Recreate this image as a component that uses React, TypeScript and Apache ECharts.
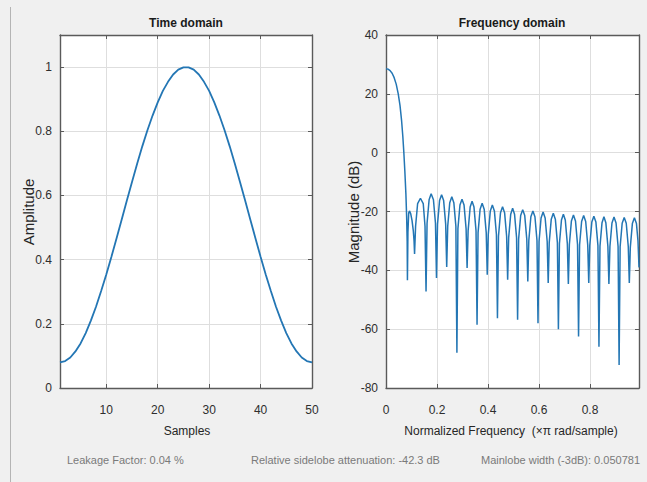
import React, { useEffect, useRef } from "react";
import * as echarts from "echarts";

// Time domain: window amplitude per sample (samples 1..50)
const timeAmp = [
  0.080, 0.084, 0.095, 0.114, 0.139, 0.171, 0.210, 0.253, 0.302, 0.354,
  0.409, 0.467, 0.525, 0.584, 0.642, 0.699, 0.753, 0.803, 0.849, 0.890,
  0.926, 0.954, 0.977, 0.992, 0.999, 0.999, 0.992, 0.977, 0.954, 0.926,
  0.890, 0.849, 0.803, 0.753, 0.699, 0.642, 0.584, 0.525, 0.467, 0.409,
  0.354, 0.302, 0.253, 0.210, 0.171, 0.139, 0.114, 0.095, 0.084, 0.080,
];

// Frequency domain: normalized frequency (x pi rad/sample) and magnitude (dB)
const freqX = [
  0.000, 0.008, 0.016, 0.024, 0.032, 0.040, 0.048, 0.055, 0.061, 0.066, 0.070, 0.074, 0.078, 0.081, 0.083,
  0.084, 0.086, 0.089, 0.092, 0.097, 0.102, 0.107, 0.110,
  0.112, 0.116, 0.124, 0.135, 0.146, 0.153,
  0.157, 0.161, 0.169, 0.177, 0.186, 0.194,
  0.198, 0.202, 0.210, 0.218, 0.226, 0.234,
  0.238, 0.242, 0.250, 0.258, 0.266, 0.274,
  0.278, 0.282, 0.290, 0.298, 0.306, 0.314,
  0.318, 0.322, 0.330, 0.3375, 0.345, 0.353,
  0.357, 0.361, 0.369, 0.377, 0.385, 0.393,
  0.397, 0.401, 0.409, 0.417, 0.425, 0.433,
  0.437, 0.441, 0.449, 0.457, 0.465, 0.473,
  0.477, 0.481, 0.489, 0.4965, 0.504, 0.512,
  0.516, 0.520, 0.528, 0.536, 0.544, 0.552,
  0.556, 0.560, 0.568, 0.576, 0.584, 0.592,
  0.596, 0.600, 0.608, 0.616, 0.624, 0.632,
  0.636, 0.640, 0.648, 0.656, 0.664, 0.672,
  0.676, 0.680, 0.688, 0.6955, 0.703, 0.711,
  0.715, 0.719, 0.727, 0.735, 0.743, 0.751,
  0.755, 0.759, 0.767, 0.775, 0.783, 0.791,
  0.795, 0.799, 0.807, 0.815, 0.823, 0.831,
  0.835, 0.839, 0.847, 0.8545, 0.862, 0.870,
  0.874, 0.878, 0.886, 0.894, 0.902, 0.910,
  0.914, 0.918, 0.926, 0.934, 0.942, 0.950,
  0.954, 0.958, 0.966, 0.974, 0.982, 0.988, 0.992,
];
const magDb = [
  28.5, 28.4, 27.9, 27.0, 25.5, 23.3, 20.0, 16.0, 11.0, 5.5, 0.0, -6.5, -14.0, -22.0, -30.0,
  -43.4, -27.0, -20.5, -19.8, -20.8, -23.0, -26.5, -30.0,
  -34.4, -25.0, -17.3, -15.5, -17.3, -25.0,
  -47.2, -24.0, -16.0, -14.0, -16.0, -24.0,
  -42.6, -24.3, -16.3, -14.3, -16.3, -24.3,
  -38.9, -25.0, -17.0, -15.0, -17.0, -25.0,
  -68.0, -25.8, -17.8, -15.8, -17.8, -25.8,
  -39.2, -26.5, -18.5, -16.5, -18.5, -26.5,
  -58.5, -27.2, -19.2, -17.2, -19.2, -27.2,
  -41.5, -27.8, -19.8, -17.8, -19.8, -27.8,
  -56.3, -28.4, -20.4, -18.4, -20.4, -28.4,
  -43.2, -28.9, -20.9, -18.9, -20.9, -28.9,
  -56.8, -29.4, -21.4, -19.4, -21.4, -29.4,
  -43.8, -29.8, -21.8, -19.8, -21.8, -29.8,
  -58.0, -30.2, -22.2, -20.2, -22.2, -30.2,
  -44.3, -30.6, -22.6, -20.6, -22.6, -30.6,
  -60.0, -30.9, -22.9, -20.9, -22.9, -30.9,
  -44.6, -31.2, -23.2, -21.2, -23.2, -31.2,
  -62.5, -31.4, -23.4, -21.4, -23.4, -31.4,
  -44.3, -31.6, -23.6, -21.6, -23.6, -31.6,
  -66.0, -31.8, -23.8, -21.8, -23.8, -31.8,
  -44.6, -31.9, -23.9, -21.9, -23.9, -31.9,
  -72.2, -32.0, -24.0, -22.0, -24.0, -32.0,
  -44.3, -32.1, -24.1, -22.1, -24.1, -30.0, -39.0,
];

const timeXTicks = [10, 20, 30, 40, 50];
const timeYTicks = [0, 0.2, 0.4, 0.6, 0.8, 1];
const freqXTicks = [0, 0.2, 0.4, 0.6, 0.8];
const freqYTicks = [-80, -60, -40, -20, 0, 20, 40];

const FONT = "'Liberation Sans', Arial, Helvetica, sans-serif";
const LINE = "#2376b4";
const AXIS = "#5a5a5a";
const GRIDC = "#dedede";
const LABEL = "#2e2e2e";

function axisPair(grid: number, min: number, max: number, ticks: number[], dir: "x" | "y") {
  const main = {
    gridIndex: grid,
    type: "value",
    min,
    max,
    position: dir === "x" ? "bottom" : "left",
    axisLine: { show: true, onZero: false, lineStyle: { color: AXIS, width: 1.4 } },
    axisTick: { show: true, inside: true, length: 4, customValues: ticks, lineStyle: { color: AXIS, width: 1 } },
    axisLabel: {
      show: true,
      customValues: ticks,
      color: LABEL,
      fontFamily: FONT,
      fontSize: 12,
      margin: dir === "x" ? 16 : 8,
      formatter: (v: number) => String(Math.round(v * 1000) / 1000),
    },
    splitLine: { show: true, customValues: ticks, lineStyle: { color: GRIDC, width: 1 } },
  };
  const other = {
    gridIndex: grid,
    type: "value",
    min,
    max,
    position: dir === "x" ? "top" : "right",
    axisLine: { show: true, onZero: false, lineStyle: { color: AXIS, width: 1.4 } },
    axisTick: { show: true, inside: true, length: 4, customValues: ticks, lineStyle: { color: AXIS, width: 1 } },
    axisLabel: { show: false },
    splitLine: { show: false },
  };
  return [main, other];
}

export default function App() {
  const ref = useRef<HTMLDivElement>(null);
  useEffect(() => {
    if (!ref.current) return;
    const chart = echarts.init(ref.current, undefined, { renderer: "svg" });
    const txt = (text: string, x: number, y: number, opts: any = {}) => ({
      type: "text",
      x,
      y,
      rotation: opts.rotation || 0,
      silent: true,
      style: {
        text,
        fill: opts.color || "#262626",
        font: `${opts.weight || "normal"} ${opts.size || 12}px ${FONT}`,
        textAlign: opts.align || "center",
        align: opts.align || "center",
        textVerticalAlign: "middle",
        verticalAlign: "middle",
      },
    });
    const option: any = {
      animation: false,
      backgroundColor: "#f0f0f0",
      grid: [
        { left: 60, right: 335, top: 35, bottom: 94, show: true, backgroundColor: "#ffffff", borderWidth: 0 },
        { left: 386, right: 8, top: 35, bottom: 94, show: true, backgroundColor: "#ffffff", borderWidth: 0 },
      ],
      xAxis: [
        ...axisPair(0, 1, 50, timeXTicks, "x"),
        ...axisPair(1, 0, 0.992, freqXTicks, "x"),
      ],
      yAxis: [
        ...axisPair(0, 0, 1.1, timeYTicks, "y"),
        ...axisPair(1, -80, 40, freqYTicks, "y"),
      ],
      series: [
        {
          type: "line",
          xAxisIndex: 0,
          yAxisIndex: 0,
          data: timeAmp.map((v, i) => [i + 1, v]),
          showSymbol: false,
          symbol: "none",
          lineStyle: { color: LINE, width: 1.8 },
        },
        {
          type: "line",
          xAxisIndex: 2,
          yAxisIndex: 2,
          data: freqX.map((x, i) => [x, magDb[i]]),
          showSymbol: false,
          symbol: "none",
          lineStyle: { color: LINE, width: 1.5 },
        },
      ],
      graphic: [
        { type: "line", silent: true, shape: { x1: 10.5, y1: 7, x2: 10.5, y2: 482 }, style: { stroke: "#b4b4b4", lineWidth: 1 } },
        txt("Time domain", 186, 23, { weight: "bold", size: 12, color: "#1a1a1a" }),
        txt("Frequency domain", 512, 23, { weight: "bold", size: 12, color: "#1a1a1a" }),
        txt("Amplitude", 28, 212, { rotation: Math.PI / 2, size: 15 }),
        txt("Magnitude (dB)", 353, 212, { rotation: Math.PI / 2, size: 15 }),
        txt("Samples", 187, 431, { size: 12 }),
        txt("Normalized Frequency  (\u00d7\u03c0 rad/sample)", 511, 431, { size: 12 }),
        txt("Leakage Factor: 0.04 %", 67, 460, { size: 11, align: "left", color: "#7a7a7a" }),
        txt("Relative sidelobe attenuation: -42.3 dB", 251, 460, { size: 11, align: "left", color: "#7a7a7a" }),
        txt("Mainlobe width (-3dB): 0.050781", 640, 460, { size: 11, align: "right", color: "#7a7a7a" }),
      ],
    };
    chart.setOption(option);
    return () => chart.dispose();
  }, []);
  return (
    <div
      ref={ref}
      style={{ position: "absolute", left: 0, top: 0, width: 647, height: 482, background: "#f0f0f0" }}
    />
  );
}
